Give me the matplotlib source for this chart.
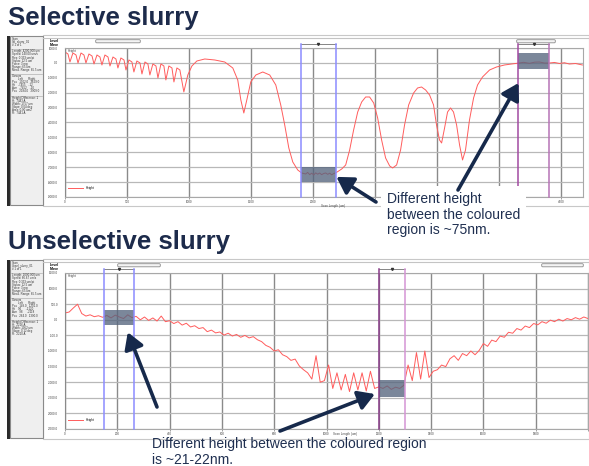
import matplotlib
matplotlib.use('Agg')
import matplotlib.pyplot as plt
from matplotlib.patches import Rectangle, FancyBboxPatch
import numpy as np

plt.rcParams['font.family'] = ['Liberation Sans', 'DejaVu Sans']

W, H = 589, 466

# selective slurry scan: position (um) / height (A)
sel_x = [0, 24, 40, 64, 89, 105, 129, 153, 169, 193, 218, 234, 258, 282, 298,
         322, 347, 363, 387, 411, 427, 451, 476, 492, 516, 540, 556, 580, 605, 621,
         645, 669, 685, 709, 734, 750, 774, 798, 814, 838, 863, 879, 903, 927, 959,
         991, 1024, 1064, 1128, 1209, 1289, 1354, 1394, 1419, 1443, 1467, 1499, 1540,
         1596, 1652, 1701, 1741, 1773, 1806, 1838, 1878, 1910,
         1942, 1958, 1975, 1991, 2007, 2023, 2039, 2055, 2071, 2088, 2104, 2120, 2136,
         2152, 2168, 2184, 2200, 2233,
         2265, 2297, 2329, 2362, 2394, 2426, 2458, 2491, 2523, 2555, 2587, 2620, 2644,
         2676, 2708, 2740, 2773, 2813, 2845, 2877, 2910, 2942, 2974, 2998, 3022, 3039,
         3063, 3087, 3111, 3135, 3160, 3184, 3208, 3232, 3264, 3297, 3329, 3369, 3426,
         3482, 3546, 3603, 3667, 3700, 3748, 3790, 3829, 3870, 3909, 3950, 3990, 4030,
         4070, 4120, 4175]
sel_h = [732, 598, 62, 665, 531, -5, 665, 531, -5, 598, 464, -72, 531, 397, -139,
         531, 397, -206, 397, 263, -340, 330, 196, -474, 196, 62, -608, 129, -5, -742,
         62, -72, -809, -72, -206, -1010, -72, -206, -1144, -206, -340, -1278, -340, -474, -1948,
         -812, -208, 127, 262, 195, 60, -342, -1147, -2489, -3362, -2489, -1281, -812,
         -610, -812, -1483, -2825, -4167, -5710, -6649, -7186, -7388,
         -7455, -7350, -7500, -7400, -7522, -7380, -7470, -7390, -7500, -7420, -7388, -7480, -7400,
         -7510, -7430, -7380, -7300, -7120,
         -6851, -5844, -4502, -3294, -2623, -2288, -2288, -2691, -3697, -5173, -6381, -6918, -7052,
         -6851, -5844, -4167, -2825, -2020, -1684, -1617, -1818, -2154, -2825, -4167, -5173, -5375,
         -4368, -3294, -3026, -3294, -4167, -5509, -6515, -5844, -3831, -2355, -1483, -946, -476,
         -275, -141, -74, -7, 40, -30, 50, 60, -10, -7, 30, -40, 10,
         -74, -40, -141]

# unselective slurry scan: 16 um steps, height (A)
uns_step = 16
uns_h = [218, 250, 380, 500, 200, 120, 160, 100, 130, 80, 140, 60, 150, 90, 40, 160,
         70, 110, 0, 90, -20, 60, -40, 120, -60, -30, -120, -60, -170, -110, -230, -190,
         -280, -250, -380, -330, -420, -390, -490, -430, -520, -470, -560, -500, -580, -540,
         -640, -700, -820, -880, -1000, -960, -1120, -1180, -1300, -1260, -1480, -1600, -1700,
         -1900, -1150, -2000, -1950, -1450, -2200, -1700, -2250, -1750, -2300, -1700, -2250,
         -1700, -2280, -1650, -2200, -2150, -2200, -2120, -2230, -2160, -2200, -2100, -1450,
         -1950, -1050, -1900, -1000, -1850, -1650, -1600, -1450, -1500, -1250, -1150, -1300,
         -1080, -1150, -1000, -1120, -980, -760, -850, -650, -700, -520, -560, -400, -430,
         -280, -330, -200, -250, -120, -160, -60, -110, -10, -60, 20, -40, 40, 0, 70, 20, 90, 40]

# cursor regions (um) and shaded height bands (A)
sel_cursors = [(1902, 2184, '#8c8cff', '#8c8cff'), (3659, 3909, '#a24aa2', '#b774b7')]
sel_bands = [(1902, 2184, -7991, -6985), (3659, 3909, -409, 664)]
uns_cursors = [(149, 264, '#8c8cff', '#8c8cff'), (1201, 1300, '#8a3c8a', '#d595d5')]
uns_bands = [(149, 264, -167, 314), (1201, 1300, -2474, -1929)]

sel_yticks = [1000, 0, -1000, -2000, -3000, -4000, -5000, -6000, -7000, -8000, -9000]
sel_xticks = [0, 500, 1000, 1500, 2000, 2500, 3000, 3500, 4000]
uns_yticks = [1500, 1000, 500, 0, -500, -1000, -1500, -2000, -2500, -3000, -3500]
uns_xticks = [0, 200, 400, 600, 800, 1000, 1200, 1400, 1600, 1800, 2000]
# x labels hidden behind the slide's text boxes
sel_hidden = [2500, 3000, 3500]
uns_hidden = [2000]

sel_info = ['Scan', 'Sel_slurry_01', '# 1 of 1', '', 'Length: 4200.000 um',
            'Speed: 140.00 um/s', 'Res: 0.333 um/pt', 'Stylus: 12.5 um', 'Force: 3 mg',
            'Range: 65 um', 'Meas. Range: 65.5 um', '', 'Cursors',
            '        Left       Right', 'Pos   1902.0   3659.0', 'Ht    -7455    -12',
            'Ave   -7452    -10', 'Pos   2184.0   3909.0', '', 'Height Difference: 1',
            'H:  7443 A', 'Width: 1757 um', 'Slope: 0.04 deg', 'Area: 0.00 um2',
            'R:  7441 A']
uns_info = ['Scan', 'Unsel_slurry_01', '# 1 of 1', '', 'Length: 2000.000 um',
            'Speed: 66.67 um/s', 'Res: 0.333 um/pt', 'Stylus: 12.5 um', 'Force: 3 mg',
            'Range: 65 um', 'Meas. Range: 65.5 um', '', 'Cursors',
            '        Left       Right', 'Pos   149.0   1201.0', 'Ht    96      -2120',
            'Ave   98      -2118', 'Pos   264.0   1300.0', '', 'Height Difference: 1',
            'H:  2216 A', 'Width: 1052 um', 'Slope: 0.12 deg', 'R:  2210 A']

NAVY = '#16294b'
TXT = '#1f2f50'


def frac(x0, y0, x1, y1):
    return [x0 / W, 1 - y1 / H, (x1 - x0) / W, (y1 - y0) / H]


fig = plt.figure(figsize=(W / 100, H / 100), dpi=100)
fig.patch.set_facecolor('white')

bg = fig.add_axes([0, 0, 1, 1], zorder=-1)
bg.set_xlim(0, W)
bg.set_ylim(H, 0)
bg.axis('off')


def window(y0, y1, info, sliders):
    # screenshot chrome drawn in pixel space
    bg.add_patch(Rectangle((43, y0), W - 43, y1 - y0, fc='white', ec='#c8c8c8', lw=0.8))
    bg.add_patch(Rectangle((7, y0 + 1), 3, y1 - y0 - 1, fc='#2a2a2a', ec='none'))
    bg.add_patch(Rectangle((10, y0 + 1), 33, y1 - y0 - 2, fc='#efefef', ec='#8a8a8a', lw=0.8))
    bg.plot([43, W], [y0 + 3, y0 + 3], color='#c4c4c4', lw=0.8)
    bg.text(50, y0 + 5.5, 'Level', fontsize=2.6, weight='bold', va='center')
    bg.text(50, y0 + 9.5, 'Move', fontsize=2.6, weight='bold', va='center')
    for sx0, sx1 in sliders:
        bg.add_patch(FancyBboxPatch((sx0, y0 + 5), sx1 - sx0, 2.5,
                                    boxstyle='round,pad=0.3,rounding_size=1',
                                    fc='#f4f4f4', ec='#8a8a8a', lw=0.6))
    yy = y0 + 4
    for line in info:
        if line == '':
            bg.plot([11, 42], [yy + 1, yy + 1], color='#b0b0b0', lw=0.5)
            yy += 3
            continue
        bg.text(12, yy, line, fontsize=2.1, color='#333333', va='center')
        yy += 3.1


def chart(box, xs, hs, xlim, ylim, xticks, yticks, cursors, bands, ytop, hidden, xlab_off):
    ax = fig.add_axes(frac(*box), zorder=1)
    ax.set_facecolor('white')
    ax.set_xlim(*xlim)
    ax.set_ylim(*ylim)
    ax.set_yticks(yticks)
    ax.set_yticklabels(['%.1f' % v for v in yticks])
    ax.set_xticks(xticks)
    ax.set_xticklabels(['' if v in hidden else str(v) for v in xticks])
    ax.tick_params(labelsize=2.2, labelcolor='#444444', length=1.5, width=0.5,
                   color='#777777', pad=1.0)
    ax.tick_params(axis='y', length=0, pad=5)
    ax.grid(axis='y', color='#b8b8b8', lw=0.9)
    ax.grid(axis='x', color='#8a8a8a', lw=1.0)
    ax.set_axisbelow(True)
    for s in ax.spines.values():
        s.set_color('#a8a8a8')
        s.set_linewidth(0.8)
    ax.spines['left'].set_color('#8a8a8a')
    ax.plot(xs, hs, color='#ff5c5c', lw=0.7, label='Height', zorder=2)
    for x0, x1, y0, y1 in bands:
        ax.add_patch(Rectangle((x0, y0), x1 - x0, y1 - y0, fc='#56657e', ec='none',
                               alpha=0.78, zorder=3))
    tr = ax.get_xaxis_transform()
    for x0, x1, c0, c1 in cursors:
        ax.axvline(x0, ymin=0, ymax=ytop, color=c0, lw=1.1, clip_on=False, zorder=4)
        ax.axvline(x1, ymin=0, ymax=ytop, color=c1, lw=1.1, clip_on=False, zorder=4)
        ax.plot([x0, x1], [ytop, ytop], transform=tr, color='#555555', lw=0.5, clip_on=False)
        ax.plot([(x0 + x1) / 2], [ytop], transform=tr, marker='v', ms=1.5, color='#333333',
                clip_on=False)
    ax.text(0.005, 0.995, 'Height', transform=ax.transAxes, fontsize=2.2, va='top',
            color='#444444')
    ax.annotate('Scan Length (um)', xy=(0.5, 0), xycoords='axes fraction',
                xytext=xlab_off, textcoords='offset points', fontsize=2.2,
                color='#444444', ha='left', va='top')
    ax.legend(loc='lower left', fontsize=2.2, frameon=False, handlelength=5,
              bbox_to_anchor=(0.0, 0.03))
    return ax


# titles
fig.text(8 / W, 1 - 18 / H, 'Selective slurry', fontsize=18.5, weight='bold', color='#1d2b4b',
         va='center')
fig.text(8 / W, 1 - 242 / H, 'Unselective slurry', fontsize=18.5, weight='bold',
         color='#1d2b4b', va='center')

window(35, 206, sel_info, [(96, 140), (517, 555)])
window(259, 439, uns_info, [(118, 160), (542, 583)])

ax1 = chart((65, 48, 583, 197), sel_x, sel_h, (0, 4180), (-9000, 1000),
            sel_xticks, sel_yticks, sel_cursors, sel_bands, 1.027, sel_hidden, (-2, -5.2))
uns_x = np.arange(len(uns_h)) * uns_step
ax2 = chart((65, 273, 588, 429), uns_x, uns_h, (0, 2000), (-3500, 1500),
            uns_xticks, uns_yticks, uns_cursors, uns_bands, 1.026, uns_hidden, (5, -1.8))

# annotations overlay
ov = fig.add_axes([0, 0, 1, 1], zorder=5)
ov.set_xlim(0, W)
ov.set_ylim(H, 0)
ov.axis('off')
ov.patch.set_alpha(0)

ov.text(387, 192, 'Different height\nbetween the coloured\nregion is ~75nm.', fontsize=10,
        color=TXT, va='top', ha='left', linespacing=1.15,
        bbox=dict(boxstyle='square,pad=0.4', fc='white', ec='none'), zorder=1)
ov.text(152, 437, 'Different height between the coloured region\nis ~21-22nm.', fontsize=10,
        color=TXT, va='top', ha='left', linespacing=1.15, zorder=1)

arrow = dict(arrowstyle='-|>,head_length=0.7,head_width=0.42', lw=2.6, color=NAVY,
             shrinkA=0, shrinkB=0, mutation_scale=14)
ov.annotate('', xy=(2190, -7650), xycoords=ax1.transData, xytext=(376, 202),
            textcoords=ov.transData, arrowprops=arrow, zorder=3)
ov.annotate('', xy=(3660, -1350), xycoords=ax1.transData, xytext=(458, 190),
            textcoords=ov.transData, arrowprops=arrow, zorder=3)
ov.annotate('', xy=(240, -400), xycoords=ax2.transData, xytext=(157, 407),
            textcoords=ov.transData, arrowprops=arrow, zorder=3)
ov.annotate('', xy=(1185, -2380), xycoords=ax2.transData, xytext=(280, 431),
            textcoords=ov.transData, arrowprops=arrow, zorder=3)

fig.savefig('out.png', dpi=100, facecolor='white')
